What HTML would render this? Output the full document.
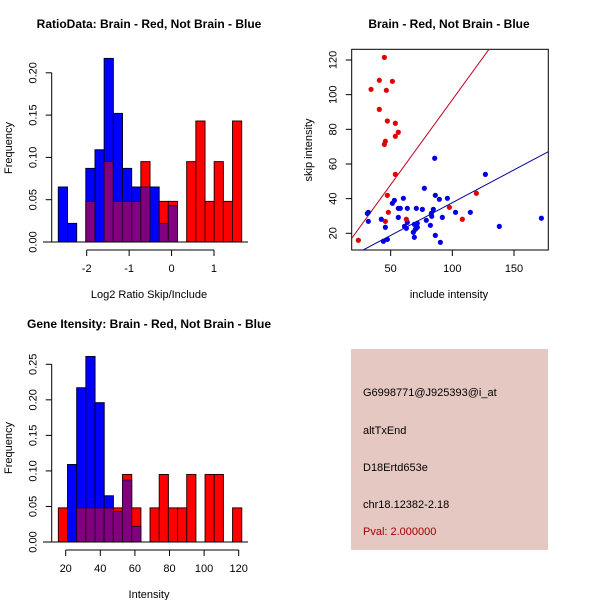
<!DOCTYPE html>
<html><head><meta charset="utf-8"><style>
body{margin:0;background:#fff}
svg{display:block;font-family:"Liberation Sans",sans-serif}
</style></head><body>
<svg id="s" width="600" height="600" xmlns="http://www.w3.org/2000/svg">
<rect x="0" y="0" width="600" height="600" fill="#fff"/>
<g>
<rect x="351" y="349" width="197" height="201" fill="#e5c8c1"/>
<g font-size="11" fill="#000">
<text x="363" y="396">G6998771@J925393@i_at</text>
<text x="363" y="434">altTxEnd</text>
<text x="363" y="471">D18Ertd653e</text>
<text x="363" y="508">chr18.12382-2.18</text>
<text x="363" y="535" fill="#a00000">Pval: 2.000000</text>
</g></g>
</svg>
<script>
// ---- Panel 1 data: ratio histogram ----
const ratioBreakStart = -2.669;
const ratioBinWidth = 0.2161;
const ratioBlue = [0.065,0.022,0,0.087,0.109,0.217,0.152,0.087,0.065,0.065,0.065,0.022,0.043,0,0,0,0,0,0,0];
const ratioRed  = [0,0,0,0.048,0,0.095,0.048,0.048,0.048,0.095,0,0.048,0.048,0,0.095,0.143,0.048,0.095,0.048,0.143];
const ratioXTicks = [-2,-1,0,1];
const ratioYTicks = [0,0.05,0.10,0.15,0.20];
const ratioYLabels = ["0.00","0.05","0.10","0.15","0.20"];
// ---- Panel 3 data: intensity histogram ----
const intBreakStart = 15.76;
const intBinWidth = 5.3;
const intBlue = [0,0.109,0.217,0.261,0.196,0.065,0.043,0.087,0.022,0,0,0,0,0,0,0,0,0,0,0];
const intRed  = [0.048,0,0.048,0.048,0.048,0.048,0.048,0.095,0.048,0,0.048,0.095,0.048,0.048,0.095,0,0.095,0.095,0,0.048];
const intXTicks = [20,40,60,80,100,120];
const intYTicks = [0,0.05,0.10,0.15,0.20,0.25];
const intYLabels = ["0.00","0.05","0.10","0.15","0.20","0.25"];
// ---- Panel 2 data: scatter ----
const redInclude = [44.9,40.8,51.4,34.1,46.5,40.8,47.3,53.8,56.2,53.8,45.7,44.9,53.8,47.3,48.1,45.7,62.7,97.6,108.1,119.5,23.8];
const redSkip    = [121.5,108.3,107.7,103.1,102.5,91.5,84.8,83.5,78.3,76,73.1,71.3,54,41.9,32.1,26.9,28.1,35,28.1,43.1,16];
const blueInclude = [85.7,126.8,77.3,60.3,53,51.4,86.2,96,89.5,56.2,57.8,63.5,70.8,75.7,84.6,83,102.6,114.6,31.9,31.1,31.9,42.4,56.2,83.3,91.9,78.9,63.5,71.6,69.2,82.2,61.2,62.7,45.7,71.6,138.1,172.2,70,68.4,86.2,69.2,47.3,44.1,90.3,70.8];
const blueSkip    = [63.3,54,46,40.2,39,37.3,41.9,40.2,39.6,34.4,34.4,34.4,34.4,33.8,33.8,31.5,32.1,32.1,32.1,31.5,26.9,28.1,29.2,29.8,29.2,27.5,26.3,25.8,25.2,24.6,24,22.9,23.5,23.5,24,28.7,22.3,20.6,18.8,17.7,16.5,15.4,14.8,24];
const redFit = [-0.93, 0.98];   // intercept, slope
const blueFit = [-0.1, 0.378];
const scXTicks = [50,100,150];
const scYTicks = [20,40,60,80,100,120];

const NS="http://www.w3.org/2000/svg";
const svg=document.getElementById('s');
function mk(tag,attrs,parent){const e=document.createElementNS(NS,tag);for(const k in attrs)e.setAttribute(k,attrs[k]);(parent||svg).appendChild(e);return e;}
function txt(x,y,s,attrs,parent){const t=mk('text',Object.assign({x:x,y:y,'font-size':11,'text-anchor':'middle'},attrs||{}),parent);t.textContent=s;return t;}

function hist(cfg){
  const g=mk('g',{});
  
  
  const xs=v=>cfg.x0px+(v-cfg.x0)*cfg.xk;
  const ys=v=>cfg.y0px-v*cfg.yk;
  for(let i=0;i<cfg.blue.length;i++){
    const l=xs(cfg.start+i*cfg.w), r=xs(cfg.start+(i+1)*cfg.w);
    const b=cfg.blue[i], rd=cfg.red[i];
    const hi=Math.max(b,rd), lo=Math.min(b,rd);
    if(hi>0){
      const isBlue=b>=rd;
      const e=mk('rect',{x:l,y:ys(hi),width:r-l,height:ys(0)-ys(hi),fill:isBlue?'#0000ff':'#ff0000',stroke:isBlue?'#000030':'#300000','stroke-width':1},g);
      
      
    }
    if(lo>0){
      const e=mk('rect',{x:l,y:ys(lo),width:r-l,height:ys(0)-ys(lo),fill:'#800080',stroke:'#300030','stroke-width':1},g);
      
      
    }
  }
  mk('line',{x1:cfg.baseL,x2:cfg.baseR,y1:ys(0),y2:ys(0),stroke:'#000'},g);
  const ya=mk('g',{},g);
  
  
  const yt=cfg.yt;
  mk('line',{x1:cfg.yaxX,x2:cfg.yaxX,y1:ys(yt[0]),y2:ys(yt[yt.length-1]),stroke:'#000'},ya);
  yt.forEach((v,i)=>{
    mk('line',{x1:cfg.yaxX,x2:cfg.yaxX-6,y1:ys(v),y2:ys(v),stroke:'#000'},ya);
    txt(0,0,cfg.yl[i],{transform:`translate(${cfg.yaxX-15},${ys(v)}) rotate(-90)`},ya);
  });
  const xa=mk('g',{},g);
  
  
  const xt=cfg.xt;
  mk('line',{x1:xs(xt[0]),x2:xs(xt[xt.length-1]),y1:cfg.xaxY,y2:cfg.xaxY,stroke:'#000'},xa);
  xt.forEach(v=>{
    mk('line',{x1:xs(v),x2:xs(v),y1:cfg.xaxY,y2:cfg.xaxY+6,stroke:'#000'},xa);
    txt(xs(v),cfg.xaxY+22,String(v),{},xa);
  });
  const t=txt(cfg.cx,cfg.titleY,cfg.title,{'font-weight':'bold','font-size':12},g);
  
  
  const xl=txt(cfg.cx,cfg.xlabY,cfg.xlab,{},g);
  
  
  const yl=txt(0,0,'Frequency',{transform:`translate(12,${cfg.ylabY}) rotate(-90)`},g);
  
  
}

hist({name:'ratio-histogram',blue:ratioBlue,red:ratioRed,start:ratioBreakStart,w:ratioBinWidth,
  x0:-2,x0px:86.7,xk:42.43,y0px:242,yk:846,baseL:43,baseR:248,yaxX:51.7,xaxY:250,
  yt:ratioYTicks,yl:ratioYLabels,xt:ratioXTicks,cx:149,titleY:28,title:'RatioData: Brain - Red, Not Brain - Blue',
  xlabY:298,xlab:'Log2 Ratio Skip/Include',ylabY:148});
hist({name:'intensity-histogram',blue:intBlue,red:intRed,start:intBreakStart,w:intBinWidth,
  x0:20,x0px:65.7,xk:1.73,y0px:542,yk:710.8,baseL:43,baseR:248,yaxX:51.7,xaxY:550,
  yt:intYTicks,yl:intYLabels,xt:intXTicks,cx:149,titleY:328,title:'Gene Itensity: Brain - Red, Not Brain - Blue',
  xlabY:598,xlab:'Intensity',ylabY:448});

(function(){
  const g=mk('g',{});
  
  
  const L=351.7,R=548.3,T=49.3,B=250;
  const xs=v=>329+v*1.2333;
  const ys=v=>233.3-(v-20)*1.733;
  const cp=mk('clipPath',{id:'clip'},g);
  mk('rect',{x:L,y:T,width:R-L,height:B-T},cp);
  mk('rect',{x:L,y:T,width:R-L,height:B-T,fill:'none',stroke:'#000'},g);
  const x0=(L-329)/1.2333, x1=(R-329)/1.2333;
  [[redFit,'#c00020','red-fit-line'],[blueFit,'#0000a0','blue-fit-line']].forEach(([f,c,n])=>{
    const l=mk('line',{x1:xs(x0),y1:ys(f[0]+f[1]*x0),x2:xs(x1),y2:ys(f[0]+f[1]*x1),stroke:c,'clip-path':'url(#clip)'},g);
    
    
  });
  blueInclude.forEach((v,i)=>{
    const c=mk('circle',{cx:xs(v),cy:ys(blueSkip[i]),r:2.6,fill:'#0000e0'},g);
    
    
  });
  redInclude.forEach((v,i)=>{
    const c=mk('circle',{cx:xs(v),cy:ys(redSkip[i]),r:2.6,fill:'#e00000'},g);
    
    
  });
  scXTicks.forEach(v=>{
    mk('line',{x1:xs(v),x2:xs(v),y1:B,y2:B+6,stroke:'#000'},g);
    txt(xs(v),B+22,String(v),{},g);
  });
  scYTicks.forEach(v=>{
    mk('line',{x1:L,x2:L-6,y1:ys(v),y2:ys(v),stroke:'#000'},g);
    txt(0,0,String(v),{transform:`translate(${L-15},${ys(v)}) rotate(-90)`},g);
  });
  const t=txt(449,28,'Brain - Red, Not Brain - Blue',{'font-weight':'bold','font-size':12},g);
  
  
  const xl=txt(449,298,'include intensity',{},g);
  
  
  const yl=txt(0,0,'skip intensity',{transform:'translate(312,150) rotate(-90)'},g);
  
  
})();
</script>
</body></html>
